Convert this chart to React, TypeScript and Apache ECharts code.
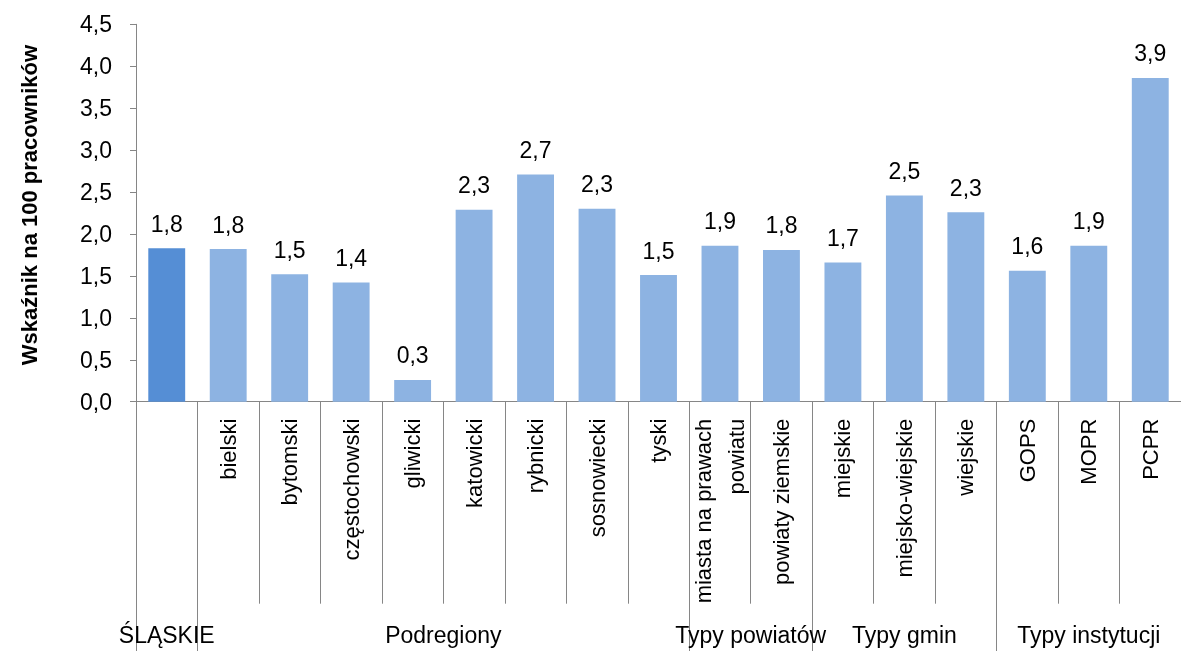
import React, { useEffect, useRef } from "react";
import * as echarts from "echarts";

const categories = [
  "",
  "bielski",
  "bytomski",
  "częstochowski",
  "gliwicki",
  "katowicki",
  "rybnicki",
  "sosnowiecki",
  "tyski",
  "miasta na prawach\npowiatu",
  "powiaty ziemskie",
  "miejskie",
  "miejsko-wiejskie",
  "wiejskie",
  "GOPS",
  "MOPR",
  "PCPR",
];
const values = [1.83, 1.82, 1.52, 1.42, 0.26, 2.29, 2.71, 2.3, 1.51, 1.86, 1.81, 1.66, 2.46, 2.26, 1.56, 1.86, 3.86];
const groupNames = ["ŚLĄSKIE", "Podregiony", "Typy powiatów", "Typy gmin", "Typy instytucji"];
const groupSizes = [1, 8, 2, 3, 3];
const yTicks = { min: 0, max: 4.5, interval: 0.5 };
const yTitle = "Wskaźnik na 100 pracowników";

const FONT = "'Liberation Sans', Arial, sans-serif";
const AXIS_COLOR = "#868686";

export default function App() {
  const ref = useRef<HTMLDivElement>(null);
  useEffect(() => {
    if (!ref.current) return;
    const chart = echarts.init(ref.current, null, { renderer: "svg" });

    const boundaries: number[] = [0];
    const centers: number[] = [];
    let acc = 0;
    groupSizes.forEach((s) => {
      centers.push(acc + s / 2);
      acc += s;
      boundaries.push(acc);
    });

    const fmt = (v: number) => v.toFixed(1).replace(".", ",");

    chart.setOption({
      animation: false,
      textStyle: { fontFamily: FONT },
      grid: { left: 136, right: -12.4, top: 24.3, bottom: 249.3, containLabel: false },
      xAxis: [
        {
          type: "category",
          data: categories,
          position: "bottom",
          axisLine: { show: true, lineStyle: { color: AXIS_COLOR, width: 1 } },
          axisTick: { show: true, length: 202, interval: 0, alignWithLabel: false, lineStyle: { color: AXIS_COLOR } },
          axisLabel: {
            interval: 0,
            rotate: 90,
            margin: 17,
            color: "#000",
            fontSize: 22,
            lineHeight: 33,
            fontFamily: FONT,
          },
          splitLine: { show: false },
        },
        {
          type: "value",
          min: 0,
          max: categories.length,
          position: "bottom",
          axisLine: { show: false },
          splitLine: { show: false },
          axisTick: {
            show: true,
            customValues: boundaries,
            length: 252,
            lineStyle: { color: AXIS_COLOR },
          },
          axisLabel: {
            customValues: centers,
            margin: 222,
            color: "#000",
            fontSize: 23,
            fontFamily: FONT,
            formatter: (v: number) => {
              const i = centers.findIndex((c) => Math.abs(c - v) < 1e-6);
              return i >= 0 ? groupNames[i] : "";
            },
          },
        },
      ],
      yAxis: {
        type: "value",
        min: yTicks.min,
        max: yTicks.max,
        interval: yTicks.interval,
        name: yTitle,
        nameLocation: "middle",
        nameRotate: 90,
        nameGap: 96,
        nameTextStyle: { fontSize: 22, fontWeight: "bold", color: "#000", fontFamily: FONT, padding: [0, 0, 0, 16] },
        axisLine: { show: true, lineStyle: { color: AXIS_COLOR } },
        axisTick: { show: true, length: 6, lineStyle: { color: AXIS_COLOR } },
        axisLabel: { margin: 24, color: "#000", fontSize: 23, fontFamily: FONT, formatter: (v: number) => fmt(v) },
        splitLine: { show: false },
      },
      series: [
        {
          type: "bar",
          xAxisIndex: 0,
          barWidth: "60%",
          data: values.map((v, i) => ({
            value: v,
            itemStyle: { color: i === 0 ? "#558ED5" : "#8DB3E2" },
          })),
          label: {
            show: true,
            position: "top",
            distance: 13,
            color: "#000",
            fontSize: 23,
            fontFamily: FONT,
            formatter: (p: any) => fmt(p.value),
          },
        },
      ],
    });
    return () => chart.dispose();
  }, []);
  return <div ref={ref} style={{ position: "fixed", left: 0, top: 0, width: 1181, height: 651 }} />;
}
